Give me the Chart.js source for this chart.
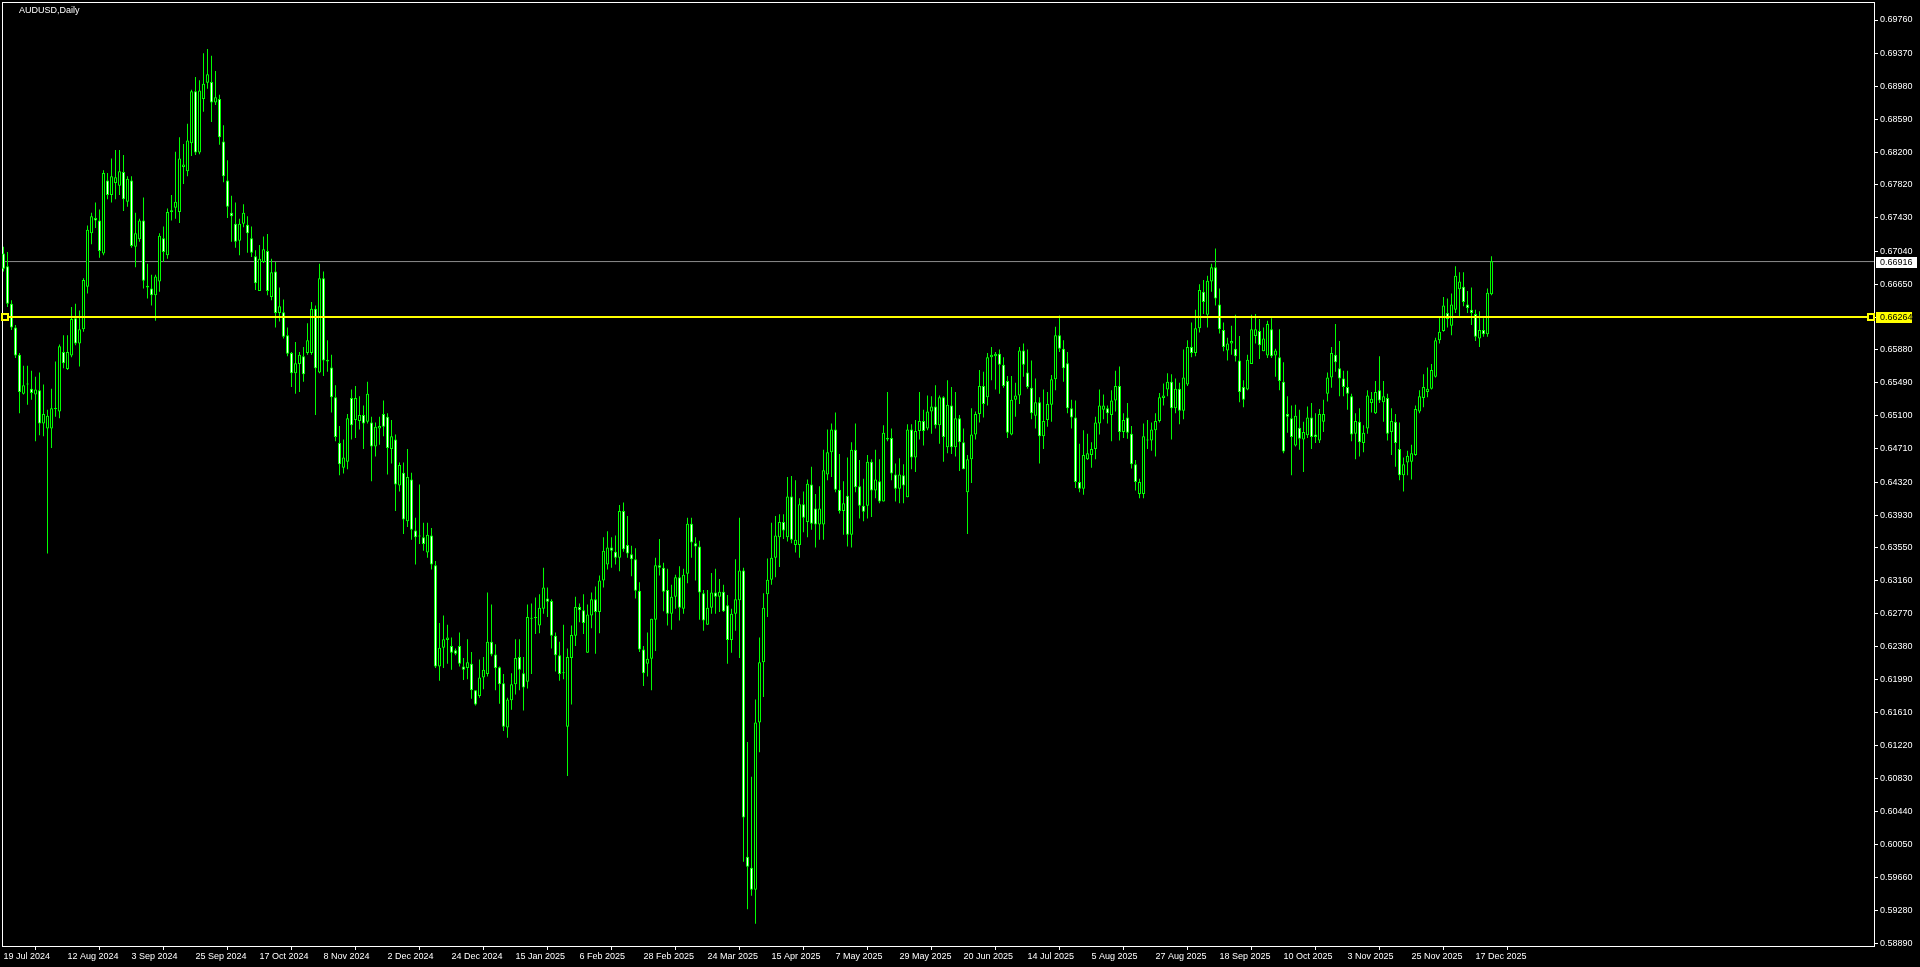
<!DOCTYPE html>
<html><head><meta charset="utf-8">
<script src="https://cdn.jsdelivr.net/npm/chart.js@4.4.1/dist/chart.umd.min.js"></script>
<style>html,body{margin:0;padding:0;background:#000;overflow:hidden}canvas{display:block}</style>
</head><body>
<canvas id="c" width="1920" height="967"></canvas>
<script>
const symbolTitle = 'AUDUSD,Daily';

const opens = [
0.6701,0.6686,0.6642,0.6614,0.6582,0.6536,0.6547,0.6542,0.6535,0.6540,
0.6501,0.6495,0.6495,0.6518,0.6515,0.6585,0.6565,0.6581,0.6625,0.6595,
0.6612,0.6662,0.6725,0.6743,0.6740,0.6701,0.6787,0.6770,0.6784,0.6781,
0.6797,0.6762,0.6787,0.6709,0.6718,0.6740,0.6663,0.6660,0.6652,0.6668,
0.6719,0.6699,0.6750,0.6755,0.6750,0.6803,0.6798,0.6831,0.6892,0.6820,
0.6883,0.6902,0.6903,0.6879,0.6883,0.6833,0.6787,0.6749,0.6736,0.6716,
0.6736,0.6735,0.6719,0.6698,0.6657,0.6691,0.6704,0.6650,0.6680,0.6631,
0.6632,0.6605,0.6584,0.6560,0.6571,0.6580,0.6584,0.6584,0.6636,0.6561,
0.6672,0.6576,0.6567,0.6532,0.6478,0.6449,0.6456,0.6531,0.6505,0.6504,
0.6511,0.6503,0.6502,0.6474,0.6495,0.6512,0.6509,0.6471,0.6482,0.6428,
0.6443,0.6386,0.6435,0.6375,0.6368,0.6367,0.6349,0.6369,0.6334,0.6215,
0.6237,0.6246,0.6239,0.6234,0.6239,0.6215,0.6213,0.6218,0.6187,0.6180,
0.6202,0.6206,0.6244,0.6229,0.6214,0.6195,0.6143,0.6175,0.6194,0.6226,
0.6207,0.6197,0.6272,0.6272,0.6263,0.6283,0.6295,0.6292,0.6251,0.6228,
0.6207,0.6144,0.6225,0.6251,0.6285,0.6281,0.6231,0.6275,0.6294,0.6279,
0.6316,0.6335,0.6355,0.6350,0.6343,0.6398,0.6358,0.6347,0.6341,0.6304,
0.6235,0.6218,0.6224,0.6270,0.6334,0.6331,0.6305,0.6277,0.6297,0.6320,
0.6283,0.6324,0.6383,0.6360,0.6356,0.6301,0.6264,0.6284,0.6302,0.6297,
0.6303,0.6287,0.6246,0.6277,0.6293,0.6328,0.5991,0.5978,0.5952,0.6149,
0.6220,0.6300,0.6317,0.6343,0.6367,0.6385,0.6367,0.6415,0.6358,0.6358,
0.6406,0.6385,0.6429,0.6401,0.6382,0.6382,0.6441,0.6467,0.6494,0.6423,
0.6398,0.6416,0.6370,0.6470,0.6427,0.6404,0.6404,0.6456,0.6422,0.6433,
0.6409,0.6484,0.6484,0.6441,0.6424,0.6440,0.6414,0.6494,0.6461,0.6492,
0.6504,0.6495,0.6515,0.6521,0.6499,0.6532,0.6473,0.6522,0.6473,0.6507,
0.6479,0.6420,0.6459,0.6488,0.6512,0.6545,0.6532,0.6579,0.6580,0.6583,
0.6570,0.6551,0.6488,0.6529,0.6534,0.6587,0.6561,0.6543,0.6510,0.6526,
0.6486,0.6505,0.6523,0.6553,0.6605,0.6589,0.6572,0.6519,0.6508,0.6432,
0.6424,0.6459,0.6464,0.6471,0.6501,0.6517,0.6519,0.6511,0.6528,0.6545,
0.6491,0.6508,0.6489,0.6453,0.6418,0.6418,0.6482,0.6481,0.6493,0.6504,
0.6531,0.6541,0.6550,0.6519,0.6542,0.6516,0.6547,0.6591,0.6584,0.6613,
0.6656,0.6629,0.6668,0.6685,0.6641,0.6611,0.6587,0.6595,0.6589,0.6575,
0.6544,0.6541,0.6571,0.6604,0.6610,0.6586,0.6581,0.6612,0.6581,0.6579,
0.6550,0.6512,0.6507,0.6475,0.6496,0.6482,0.6487,0.6508,0.6488,0.6481,
0.6503,0.6536,0.6555,0.6582,0.6566,0.6554,0.6544,0.6533,0.6489,0.6503,
0.6478,0.6495,0.6525,0.6513,0.6540,0.6526,0.6531,0.6491,0.6503,0.6471,
0.6440,0.6455,0.6456,0.6464,0.6515,0.6531,0.6538,0.6542,0.6556,0.6599,
0.6610,0.6631,0.6616,0.6635,0.6659,0.6662,0.6641,0.6635,0.6630,0.6601,
0.6611,0.6606,0.6653
];

const highs = [
0.6709,0.6703,0.6646,0.6617,0.6584,0.6569,0.6569,0.6563,0.6556,0.6561,
0.6547,0.6517,0.6542,0.6574,0.6594,0.6605,0.6605,0.6638,0.6642,0.6634,
0.6672,0.6734,0.6749,0.6761,0.6753,0.6799,0.6796,0.6813,0.6823,0.6823,
0.6817,0.6792,0.6792,0.6749,0.6742,0.6767,0.6689,0.6676,0.6676,0.6725,
0.6733,0.6754,0.6770,0.6821,0.6838,0.6830,0.6854,0.6894,0.6909,0.6905,
0.6937,0.6942,0.6934,0.6916,0.6888,0.6852,0.6811,0.6769,0.6761,0.6742,
0.6759,0.6745,0.6733,0.6705,0.6711,0.6721,0.6724,0.6695,0.6691,0.6661,
0.6647,0.6614,0.6585,0.6597,0.6585,0.6591,0.6619,0.6644,0.6640,0.6689,
0.6680,0.6599,0.6582,0.6546,0.6498,0.6482,0.6512,0.6541,0.6545,0.6533,
0.6522,0.6550,0.6509,0.6502,0.6509,0.6528,0.6513,0.6505,0.6488,0.6455,
0.6455,0.6471,0.6443,0.6390,0.6429,0.6384,0.6384,0.6378,0.6339,0.6266,
0.6275,0.6264,0.6249,0.6236,0.6255,0.6225,0.6247,0.6232,0.6187,0.6223,
0.6226,0.6302,0.6288,0.6241,0.6215,0.6206,0.6178,0.6207,0.6247,0.6247,
0.6226,0.6288,0.6289,0.6296,0.6300,0.6331,0.6308,0.6294,0.6255,0.6244,
0.6264,0.6236,0.6263,0.6297,0.6289,0.6300,0.6288,0.6302,0.6309,0.6322,
0.6367,0.6374,0.6367,0.6369,0.6405,0.6408,0.6392,0.6357,0.6354,0.6314,
0.6239,0.6255,0.6271,0.6343,0.6365,0.6337,0.6330,0.6311,0.6323,0.6333,
0.6330,0.6390,0.6390,0.6367,0.6363,0.6305,0.6305,0.6325,0.6330,0.6318,
0.6311,0.6299,0.6283,0.6341,0.6390,0.6331,0.6126,0.6085,0.6176,0.6249,
0.6301,0.6342,0.6384,0.6392,0.6394,0.6394,0.6438,0.6439,0.6434,0.6413,
0.6421,0.6435,0.6450,0.6418,0.6427,0.6470,0.6494,0.6501,0.6514,0.6465,
0.6433,0.6461,0.6479,0.6501,0.6458,0.6436,0.6464,0.6459,0.6470,0.6459,
0.6499,0.6538,0.6495,0.6454,0.6460,0.6453,0.6500,0.6500,0.6505,0.6538,
0.6517,0.6534,0.6533,0.6546,0.6534,0.6533,0.6552,0.6544,0.6538,0.6511,
0.6495,0.6464,0.6519,0.6515,0.6564,0.6562,0.6584,0.6591,0.6585,0.6588,
0.6579,0.6557,0.6557,0.6549,0.6591,0.6595,0.6588,0.6575,0.6554,0.6532,
0.6541,0.6538,0.6558,0.6615,0.6628,0.6599,0.6585,0.6529,0.6528,0.6477,
0.6493,0.6489,0.6479,0.6509,0.6541,0.6535,0.6522,0.6540,0.6563,0.6568,
0.6513,0.6525,0.6498,0.6458,0.6436,0.6501,0.6505,0.6502,0.6513,0.6537,
0.6548,0.6560,0.6559,0.6554,0.6549,0.6588,0.6599,0.6620,0.6635,0.6665,
0.6670,0.6675,0.6689,0.6707,0.6660,0.6620,0.6602,0.6616,0.6629,0.6604,
0.6552,0.6582,0.6629,0.6630,0.6624,0.6614,0.6622,0.6625,0.6589,0.6612,
0.6573,0.6533,0.6522,0.6523,0.6517,0.6503,0.6521,0.6525,0.6513,0.6518,
0.6529,0.6561,0.6591,0.6618,0.6598,0.6563,0.6563,0.6536,0.6513,0.6519,
0.6499,0.6540,0.6538,0.6551,0.6580,0.6551,0.6536,0.6519,0.6512,0.6502,
0.6461,0.6469,0.6476,0.6522,0.6540,0.6559,0.6567,0.6571,0.6602,0.6626,
0.6650,0.6648,0.6654,0.6686,0.6679,0.6679,0.6657,0.6661,0.6635,0.6633,
0.6625,0.6660,0.6698
];

const lows = [
0.6680,0.6638,0.6611,0.6578,0.6513,0.6535,0.6523,0.6529,0.6480,0.6487,
0.6486,0.6348,0.6472,0.6509,0.6507,0.6566,0.6564,0.6579,0.6593,0.6568,
0.6609,0.6654,0.6712,0.6731,0.6696,0.6699,0.6765,0.6761,0.6765,0.6770,
0.6751,0.6756,0.6708,0.6685,0.6715,0.6660,0.6648,0.6640,0.6622,0.6656,
0.6691,0.6695,0.6740,0.6742,0.6737,0.6783,0.6792,0.6816,0.6817,0.6818,
0.6868,0.6895,0.6856,0.6876,0.6829,0.6785,0.6743,0.6715,0.6708,0.6699,
0.6732,0.6702,0.6697,0.6658,0.6657,0.6690,0.6652,0.6646,0.6614,0.6621,
0.6601,0.6580,0.6544,0.6536,0.6538,0.6550,0.6582,0.6582,0.6511,0.6560,
0.6557,0.6562,0.6514,0.6480,0.6440,0.6442,0.6447,0.6482,0.6484,0.6494,
0.6471,0.6501,0.6433,0.6462,0.6476,0.6486,0.6441,0.6454,0.6398,0.6421,
0.6371,0.6379,0.6364,0.6335,0.6359,0.6351,0.6343,0.6329,0.6213,0.6198,
0.6213,0.6218,0.6211,0.6228,0.6215,0.6199,0.6200,0.6177,0.6169,0.6178,
0.6188,0.6203,0.6227,0.6187,0.6171,0.6139,0.6131,0.6164,0.6182,0.6187,
0.6163,0.6189,0.6206,0.6253,0.6254,0.6277,0.6273,0.6236,0.6209,0.6198,
0.6200,0.6086,0.6170,0.6239,0.6267,0.6253,0.6231,0.6260,0.6230,0.6254,
0.6308,0.6329,0.6331,0.6335,0.6327,0.6350,0.6343,0.6321,0.6295,0.6232,
0.6192,0.6203,0.6187,0.6233,0.6322,0.6280,0.6263,0.6258,0.6283,0.6269,
0.6277,0.6313,0.6343,0.6316,0.6270,0.6257,0.6264,0.6277,0.6277,0.6279,
0.6279,0.6218,0.6231,0.6257,0.6225,0.5985,0.5929,0.5945,0.5912,0.6114,
0.6179,0.6273,0.6311,0.6320,0.6332,0.6365,0.6362,0.6360,0.6349,0.6343,
0.6373,0.6367,0.6376,0.6355,0.6364,0.6364,0.6434,0.6438,0.6420,0.6395,
0.6370,0.6356,0.6355,0.6420,0.6389,0.6386,0.6389,0.6391,0.6413,0.6407,
0.6409,0.6480,0.6434,0.6409,0.6407,0.6407,0.6414,0.6447,0.6444,0.6482,
0.6475,0.6493,0.6489,0.6495,0.6477,0.6456,0.6466,0.6465,0.6462,0.6445,
0.6447,0.6371,0.6431,0.6482,0.6502,0.6508,0.6522,0.6552,0.6541,0.6536,
0.6543,0.6484,0.6487,0.6509,0.6524,0.6556,0.6542,0.6506,0.6495,0.6454,
0.6471,0.6497,0.6503,0.6540,0.6585,0.6550,0.6513,0.6495,0.6425,0.6420,
0.6417,0.6458,0.6449,0.6459,0.6488,0.6506,0.6501,0.6480,0.6515,0.6481,
0.6484,0.6483,0.6448,0.6422,0.6413,0.6413,0.6471,0.6469,0.6462,0.6502,
0.6522,0.6533,0.6482,0.6513,0.6500,0.6506,0.6545,0.6579,0.6580,0.6608,
0.6630,0.6614,0.6656,0.6640,0.6607,0.6586,0.6575,0.6582,0.6574,0.6526,
0.6520,0.6540,0.6571,0.6595,0.6577,0.6586,0.6578,0.6578,0.6556,0.6540,
0.6466,0.6490,0.6440,0.6474,0.6470,0.6444,0.6484,0.6471,0.6478,0.6478,
0.6491,0.6527,0.6543,0.6562,0.6533,0.6533,0.6517,0.6480,0.6459,0.6462,
0.6467,0.6489,0.6514,0.6512,0.6525,0.6503,0.6481,0.6464,0.6450,0.6434,
0.6421,0.6440,0.6435,0.6463,0.6513,0.6520,0.6532,0.6541,0.6555,0.6595,
0.6609,0.6614,0.6605,0.6631,0.6626,0.6639,0.6631,0.6617,0.6598,0.6591,
0.6603,0.6603,0.6652
];

const closes = [
0.6683,0.6642,0.6614,0.6581,0.6538,0.6546,0.6548,0.6537,0.6541,0.6501,
0.6512,0.6510,0.6519,0.6519,0.6592,0.6572,0.6585,0.6624,0.6595,0.6612,
0.6670,0.6729,0.6745,0.6740,0.6704,0.6796,0.6770,0.6792,0.6791,0.6798,
0.6765,0.6789,0.6710,0.6725,0.6740,0.6669,0.6661,0.6652,0.6674,0.6722,
0.6703,0.6750,0.6752,0.6762,0.6813,0.6806,0.6834,0.6892,0.6820,0.6893,
0.6901,0.6912,0.6879,0.6885,0.6838,0.6792,0.6756,0.6745,0.6715,0.6736,
0.6749,0.6725,0.6702,0.6666,0.6695,0.6706,0.6657,0.6679,0.6631,0.6639,
0.6603,0.6583,0.6560,0.6572,0.6582,0.6559,0.6599,0.6636,0.6566,0.6672,
0.6575,0.6574,0.6532,0.6485,0.6453,0.6461,0.6507,0.6499,0.6531,0.6511,
0.6501,0.6536,0.6474,0.6497,0.6498,0.6497,0.6472,0.6486,0.6429,0.6452,
0.6388,0.6438,0.6376,0.6367,0.6368,0.6359,0.6370,0.6335,0.6215,0.6237,
0.6247,0.6249,0.6231,0.6230,0.6218,0.6211,0.6220,0.6187,0.6170,0.6202,
0.6211,0.6244,0.6229,0.6213,0.6194,0.6144,0.6176,0.6194,0.6225,0.6211,
0.6190,0.6273,0.6271,0.6272,0.6284,0.6308,0.6291,0.6251,0.6228,0.6206,
0.6207,0.6226,0.6252,0.6285,0.6281,0.6266,0.6276,0.6294,0.6279,0.6316,
0.6351,0.6355,0.6351,0.6343,0.6398,0.6353,0.6348,0.6341,0.6304,0.6235,
0.6207,0.6224,0.6271,0.6334,0.6331,0.6303,0.6277,0.6297,0.6320,0.6284,
0.6323,0.6383,0.6361,0.6356,0.6302,0.6269,0.6284,0.6302,0.6297,0.6303,
0.6280,0.6246,0.6277,0.6294,0.6328,0.6037,0.5979,0.5952,0.6149,0.6220,
0.6284,0.6317,0.6343,0.6369,0.6385,0.6375,0.6415,0.6364,0.6364,0.6406,
0.6390,0.6430,0.6383,0.6382,0.6401,0.6446,0.6467,0.6494,0.6423,0.6398,
0.6407,0.6370,0.6470,0.6426,0.6404,0.6397,0.6456,0.6422,0.6435,0.6409,
0.6490,0.6482,0.6442,0.6424,0.6441,0.6428,0.6494,0.6461,0.6492,0.6504,
0.6492,0.6515,0.6521,0.6499,0.6532,0.6485,0.6523,0.6473,0.6507,0.6479,
0.6447,0.6459,0.6488,0.6512,0.6545,0.6524,0.6579,0.6582,0.6583,0.6570,
0.6545,0.6490,0.6529,0.6534,0.6587,0.6570,0.6544,0.6513,0.6526,0.6486,
0.6504,0.6524,0.6553,0.6605,0.6589,0.6566,0.6519,0.6508,0.6432,0.6424,
0.6464,0.6466,0.6471,0.6502,0.6522,0.6522,0.6513,0.6528,0.6545,0.6491,
0.6505,0.6490,0.6453,0.6432,0.6432,0.6486,0.6481,0.6494,0.6504,0.6532,
0.6534,0.6550,0.6519,0.6542,0.6516,0.6555,0.6591,0.6584,0.6613,0.6658,
0.6644,0.6669,0.6685,0.6648,0.6612,0.6591,0.6595,0.6598,0.6580,0.6538,
0.6529,0.6576,0.6612,0.6612,0.6593,0.6601,0.6618,0.6580,0.6587,0.6551,
0.6468,0.6509,0.6485,0.6510,0.6483,0.6491,0.6508,0.6485,0.6485,0.6512,
0.6512,0.6555,0.6584,0.6573,0.6554,0.6544,0.6536,0.6488,0.6504,0.6479,
0.6490,0.6534,0.6530,0.6538,0.6528,0.6533,0.6489,0.6504,0.6478,0.6440,
0.6453,0.6463,0.6466,0.6518,0.6533,0.6544,0.6542,0.6564,0.6599,0.6609,
0.6640,0.6624,0.6641,0.6675,0.6668,0.6644,0.6637,0.6631,0.6603,0.6611,
0.6606,0.6655,0.6692
];

const dateTickLabels = ['19 Jul 2024','12 Aug 2024','3 Sep 2024','25 Sep 2024','17 Oct 2024','8 Nov 2024',
  '2 Dec 2024','24 Dec 2024','15 Jan 2025','6 Feb 2025','28 Feb 2025','24 Mar 2025','15 Apr 2025',
  '7 May 2025','29 May 2025','20 Jun 2025','14 Jul 2025','5 Aug 2025','27 Aug 2025','18 Sep 2025',
  '10 Oct 2025','3 Nov 2025','25 Nov 2025','17 Dec 2025'];
const barsPerDateTick = 16;

const priceTicks = [0.69760,0.69370,0.68980,0.68590,0.68200,0.67820,0.67430,0.67040,0.66650,0.66260,
  0.65880,0.65490,0.65100,0.64710,0.64320,0.63930,0.63550,0.63160,0.62770,0.62380,0.61990,0.61610,
  0.61220,0.60830,0.60440,0.60050,0.59660,0.59280,0.58890];

const bidPrice = 0.66916;
const levelPrice = 0.66264;

// ---- rendering ----
const FONT = "'Liberation Sans', Arial, sans-serif";
const FS = 9;
const X_MIN = -0.375, X_MAX = 467.625;
const Y_MIN = 0.58858, Y_MAX = 0.69972;
const BULL = '#00ff00';

const wickData = highs.map((h, i) => ({x: i, y: [lows[i], h]}));
const bodyData = opens.map((o, i) => ({x: i, y: [o, closes[i]]}));
const bodyFill = opens.map((o, i) => closes[i] >= o ? '#000000' : '#ffffff');

const noPad = s => { s.paddingTop = 0; s.paddingBottom = 0; s.paddingLeft = 0; s.paddingRight = 0; };

const mtPlugin = {
  id: 'mt',
  beforeDraw(chart) {
    const c = chart.ctx;
    c.save(); c.fillStyle = '#000'; c.fillRect(0, 0, chart.width, chart.height); c.restore();
  },
  beforeDatasetsDraw(chart) {
    const c = chart.ctx, a = chart.chartArea;
    c.save();
    c.strokeStyle = '#ffffff'; c.lineWidth = 1;
    c.strokeRect(a.left + 0.5, a.top + 0.5, a.right - a.left, a.bottom - a.top);
    c.restore();
  },
  afterDraw(chart) {
    const c = chart.ctx, a = chart.chartArea, ys = chart.scales.y;
    c.save();
    c.font = FS + 'px ' + FONT;
    c.textBaseline = 'middle';
    c.textAlign = 'left';
    c.fillStyle = '#ffffff';
    c.fillText(symbolTitle, 19, 11);
    const tag = (v, bg, w) => {
      const y = Math.round(ys.getPixelForValue(v));
      c.fillStyle = bg;
      c.fillRect(a.right + 2, y - 5, w, 11);
      c.fillStyle = '#000';
      c.fillText(v.toFixed(5), a.right + 6, y + 0.5);
    };
    tag(bidPrice, '#ffffff', 41);
    tag(levelPrice, '#ffff00', 36);
    c.restore();
  }
};

new Chart(document.getElementById('c'), {
  type: 'bar',
  data: {
    datasets: [
      { type: 'line', data: [{x: X_MIN, y: bidPrice}, {x: X_MAX, y: bidPrice}],
        borderColor: '#8c8c8c', borderWidth: 1, pointRadius: 0, order: 3 },
      { type: 'bar', data: wickData, backgroundColor: BULL, borderWidth: 0,
        barThickness: 1, grouped: false, inflateAmount: 0, order: 2 },
      { type: 'bar', data: bodyData, backgroundColor: bodyFill, borderColor: BULL, borderWidth: 1,
        borderSkipped: false, barThickness: 3, grouped: false, minBarLength: 1, inflateAmount: 0, order: 1 },
      { type: 'line', data: [{x: X_MIN + 0.75, y: levelPrice}, {x: X_MAX - 0.75, y: levelPrice}],
        borderColor: '#ffff00', borderWidth: 2, pointStyle: 'rect', pointRadius: 4.25,
        pointBackgroundColor: '#000000', pointBorderColor: '#ffff00', pointBorderWidth: 2, clip: false, order: 0 }
    ]
  },
  options: {
    responsive: false,
    animation: false,
    devicePixelRatio: 1,
    layout: { autoPadding: false, padding: { left: 2, top: 2, right: 0, bottom: 0 } },
    plugins: { legend: { display: false }, tooltip: { enabled: false }, title: { display: false } },
    events: [],
    scales: {
      x: {
        type: 'linear', min: X_MIN, max: X_MAX, offset: false,
        afterBuildTicks: s => { s.ticks = dateTickLabels.map((_, k) => ({ value: k * barsPerDateTick })); },
        afterFit: s => { s.height = 21; noPad(s); },
        grid: { drawOnChartArea: false, drawTicks: true, tickLength: 4, tickColor: '#ffffff', color: '#ffffff' },
        border: { display: false },
        ticks: { color: '#ffffff', font: { family: FONT, size: FS }, align: 'start', labelOffset: 0, padding: 1,
                 maxRotation: 0, minRotation: 0, autoSkip: false,
                 callback: v => dateTickLabels[Math.round(v / barsPerDateTick)] }
      },
      y: {
        type: 'linear', position: 'right', min: Y_MIN, max: Y_MAX,
        afterBuildTicks: s => { s.ticks = priceTicks.map(v => ({ value: v })); },
        afterFit: s => { s.width = 46; noPad(s); },
        grid: { drawOnChartArea: false, drawTicks: true, tickLength: 4, tickColor: '#ffffff', color: '#ffffff' },
        border: { display: false },
        ticks: { color: '#ffffff', font: { family: FONT, size: FS }, padding: 2, autoSkip: false,
                 callback: v => Number(v).toFixed(5) }
      }
    }
  },
  plugins: [mtPlugin]
});
</script>
</body></html>
